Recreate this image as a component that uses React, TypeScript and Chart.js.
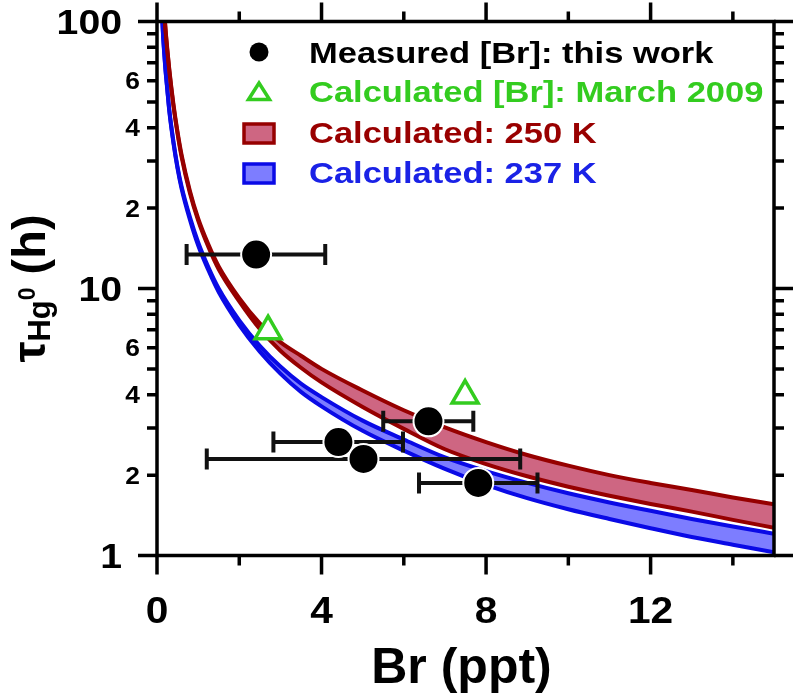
import React, { useEffect, useRef } from 'react';
import { Chart, registerables } from 'chart.js';

Chart.register(...registerables);

// ---------- data ----------
const X_BR = [0.12, 0.15, 0.17, 0.2, 0.25, 0.3, 0.4, 0.5, 0.6, 0.8, 1, 1.25, 1.5, 2, 2.5, 3, 3.5, 4, 5, 6, 7, 8, 9, 10, 11, 12, 13, 14, 15];
const RED_UPPER = [162, 130, 115, 97, 79, 66, 49, 38.5, 31.5, 23.2, 18.3, 14.6, 12.1, 9.2, 7.4, 6.3, 5.6, 5.0, 4.15, 3.5, 3.02, 2.66, 2.38, 2.17, 2.0, 1.87, 1.76, 1.65, 1.555];
const RED_LOWER = [160, 128, 114, 96, 78, 65.2, 48.3, 38, 31, 22.8, 18.0, 14.3, 11.8, 8.95, 7.05, 5.85, 5.05, 4.45, 3.6, 2.98, 2.5, 2.2, 1.98, 1.81, 1.675, 1.56, 1.46, 1.36, 1.27];
const BLUE_UPPER = [108, 88, 79, 68, 56, 46.5, 35.5, 28.5, 24, 18.5, 14.9, 12.0, 10.0, 7.6, 6.1, 5.1, 4.4, 3.92, 3.2, 2.72, 2.33, 2.07, 1.87, 1.71, 1.58, 1.47, 1.37, 1.285, 1.206];
const BLUE_LOWER = [107, 87, 78, 67.5, 55.5, 46, 35, 28.1, 23.6, 18.1, 14.5, 11.7, 9.7, 7.3, 5.8, 4.8, 4.1, 3.62, 2.93, 2.47, 2.11, 1.84, 1.64, 1.49, 1.37, 1.265, 1.173, 1.098, 1.029];

const MEAS_BR = [2.41, 4.41, 5.02, 6.6, 7.81];
const MEAS_TAU = [13.4, 2.66, 2.3, 3.18, 1.87];
const MEAS_BR_LO = [0.72, 2.83, 1.21, 5.5, 6.37];
const MEAS_BR_HI = [4.09, 5.98, 8.83, 7.69, 9.25];

const CALC_BR = [2.7, 7.49];
const CALC_TAU = [6.92, 3.97];

const X_MAJOR = [0, 4, 8, 12];
const X_MINOR = [2, 6, 10, 14];
const X_TICK_LABELS = ['0', '4', '8', '12'];
const Y_MAJOR = [1, 10, 100];
const Y_MINOR = [2, 3, 4, 5, 6, 7, 8, 9, 20, 30, 40, 50, 60, 70, 80, 90];
const Y_LABEL_VALUES = [1, 2, 4, 6, 10, 20, 40, 60, 100];
const Y_TICK_LABELS = ['1', '2', '4', '6', '10', '2', '4', '6', '100'];

const LEGEND_LABELS = ['Measured [Br]: this work', 'Calculated [Br]: March 2009', 'Calculated: 250 K', 'Calculated: 237 K'];
const X_TITLE = 'Br (ppt)';

// ---------- styles ----------
const FONT = '"Liberation Sans", Arial, Helvetica, sans-serif';
const RED = '#960000';
const RED_FILL = 'rgb(206,102,130)';
const BLUE = '#0a0ae6';
const BLUE_FILL = 'rgb(125,125,255)';
const GREEN = '#33cc1f';
const RED_TEXT = '#990000';
const BLUE_TEXT = '#1a22e6';

const MEAS_INDEX = 1;

function drawText(ctx: CanvasRenderingContext2D, text: string, x: number, y: number, size: number, color: string, align: string, sx: number) {
  ctx.save();
  ctx.font = `bold ${size}px ${FONT}`;
  ctx.fillStyle = color;
  ctx.textBaseline = 'alphabetic';
  ctx.textAlign = 'left';
  const w = ctx.measureText(text).width * sx;
  const x0 = align === 'right' ? x - w : align === 'center' ? x - w / 2 : x;
  ctx.translate(x0, y);
  ctx.scale(sx, 1);
  ctx.fillText(text, 0, 0);
  ctx.restore();
}

const decorPlugin = {
  id: 'decor',
  beforeDatasetDraw(chart: any, args: any) {
    if (args.index !== MEAS_INDEX) return;
    const ctx = chart.ctx as CanvasRenderingContext2D;
    const xs = chart.scales.x;
    const ys = chart.scales.y;
    ctx.save();
    ctx.strokeStyle = '#111';
    ctx.lineWidth = 4;
    for (let i = 0; i < MEAS_BR.length; i++) {
      const y = ys.getPixelForValue(MEAS_TAU[i]);
      const x1 = xs.getPixelForValue(MEAS_BR_LO[i]);
      const x2 = xs.getPixelForValue(MEAS_BR_HI[i]);
      ctx.beginPath();
      ctx.moveTo(x1, y);
      ctx.lineTo(x2, y);
      ctx.moveTo(x1, y - 10.5);
      ctx.lineTo(x1, y + 10.5);
      ctx.moveTo(x2, y - 10.5);
      ctx.lineTo(x2, y + 10.5);
      ctx.stroke();
    }
    ctx.restore();
  },
  afterDraw(chart: any) {
    const ctx = chart.ctx as CanvasRenderingContext2D;
    const xs = chart.scales.x;
    const ys = chart.scales.y;
    const { left, right, top, bottom } = chart.chartArea;
    ctx.save();
    ctx.strokeStyle = '#000';
    ctx.lineWidth = 3.5;
    ctx.strokeRect(left, top, right - left, bottom - top);
    ctx.beginPath();
    const MAJ = 19;
    const MIN = 10;
    X_MAJOR.forEach((v) => {
      const x = xs.getPixelForValue(v);
      ctx.moveTo(x, bottom); ctx.lineTo(x, bottom + MAJ);
      ctx.moveTo(x, top); ctx.lineTo(x, top - MAJ);
    });
    X_MINOR.forEach((v) => {
      const x = xs.getPixelForValue(v);
      ctx.moveTo(x, bottom); ctx.lineTo(x, bottom + MIN);
      ctx.moveTo(x, top); ctx.lineTo(x, top - MIN);
    });
    Y_MAJOR.forEach((v) => {
      const y = ys.getPixelForValue(v);
      ctx.moveTo(left, y); ctx.lineTo(left - MAJ, y);
      ctx.moveTo(right, y); ctx.lineTo(right + MAJ, y);
    });
    Y_MINOR.forEach((v) => {
      const y = ys.getPixelForValue(v);
      ctx.moveTo(left, y); ctx.lineTo(left - MIN, y);
      ctx.moveTo(right, y); ctx.lineTo(right + MIN, y);
    });
    ctx.stroke();
    ctx.restore();

    // x tick labels
    X_MAJOR.forEach((v, i) => {
      drawText(ctx, X_TICK_LABELS[i], xs.getPixelForValue(v), bottom + 67.5, 37, '#000', 'center', 1.1);
    });
    // y tick labels
    Y_LABEL_VALUES.forEach((v, i) => {
      const y = ys.getPixelForValue(v);
      const major = Y_MAJOR.includes(v);
      const size = major ? 35 : 24;
      drawText(ctx, Y_TICK_LABELS[i], major ? left - 35 : left - 17, y + size * 0.358, size, '#000', 'right', major ? 1.12 : 1.1);
    });
    // x title
    drawText(ctx, X_TITLE, (left + right) / 2 - 4, 683, 50, '#000', 'center', 1);

    // y title: tau_{Hg^0} (h)
    ctx.save();
    ctx.translate(45, (top + bottom) / 2);
    ctx.rotate(-Math.PI / 2);
    const parts = [
      { t: '\u03c4', size: 47, dy: 0 },
      { t: 'Hg', size: 31, dy: 5 },
      { t: '0', size: 23, dy: -10 },
      { t: ' (h)', size: 47, dy: 0 },
    ];
    let total = 0;
    const widths = parts.map((p) => {
      ctx.font = `bold ${p.size}px ${FONT}`;
      const w = ctx.measureText(p.t).width;
      total += w;
      return w;
    });
    let cx = -total / 2;
    ctx.fillStyle = '#000';
    ctx.textBaseline = 'alphabetic';
    parts.forEach((p, i) => {
      ctx.font = `bold ${p.size}px ${FONT}`;
      ctx.fillText(p.t, cx, p.dy);
      cx += widths[i];
    });
    ctx.restore();

    // legend
    const mx = 259;
    const tx = 309;
    const baselines = [63, 102, 143, 183];
    ctx.save();
    ctx.fillStyle = '#000';
    ctx.beginPath();
    ctx.arc(mx, 52, 9.5, 0, Math.PI * 2);
    ctx.fill();
    ctx.strokeStyle = GREEN;
    ctx.lineWidth = 3.5;
    ctx.lineJoin = 'miter';
    ctx.beginPath();
    ctx.moveTo(mx, 83);
    ctx.lineTo(mx + 10.5, 99.5);
    ctx.lineTo(mx - 10.5, 99.5);
    ctx.closePath();
    ctx.stroke();
    ctx.lineWidth = 3.5;
    ctx.fillStyle = RED_FILL;
    ctx.strokeStyle = RED;
    ctx.beginPath();
    ctx.rect(mx - 15, 124, 30, 19);
    ctx.fill();
    ctx.stroke();
    ctx.fillStyle = BLUE_FILL;
    ctx.strokeStyle = BLUE;
    ctx.beginPath();
    ctx.rect(mx - 15, 164, 30, 19);
    ctx.fill();
    ctx.stroke();
    ctx.restore();
    const colors = ['#000', GREEN, RED_TEXT, BLUE_TEXT];
    LEGEND_LABELS.forEach((t, i) => {
      drawText(ctx, t, tx, baselines[i], 30, colors[i], 'left', 1.15);
    });
  },
};

export default function App() {
  const ref = useRef<HTMLCanvasElement>(null);
  useEffect(() => {
    if (!ref.current) return;
    const line = (vals: number[], color: string, fill: any, bg: string, order: number) => ({
      type: 'line' as const,
      data: X_BR.map((x, i) => ({ x, y: vals[i] })),
      borderColor: color,
      borderWidth: 4,
      backgroundColor: bg,
      fill,
      pointRadius: 0,
      cubicInterpolationMode: 'monotone' as const,
      order,
    });
    const chart = new Chart(ref.current, {
      type: 'scatter',
      data: {
        datasets: [
          {
            label: LEGEND_LABELS[1],
            data: CALC_BR.map((x, i) => ({ x, y: CALC_TAU[i] })),
            pointStyle: 'triangle',
            pointRadius: 15,
            borderWidth: 3.5,
            borderColor: GREEN,
            backgroundColor: '#fff',
            order: 0,
          },
          {
            label: LEGEND_LABELS[0],
            data: MEAS_BR.map((x, i) => ({ x, y: MEAS_TAU[i] })),
            pointStyle: 'circle',
            pointRadius: 15,
            borderWidth: 2,
            borderColor: '#fff',
            backgroundColor: '#000',
            order: 1,
          },
          line(RED_UPPER, RED, '+1', RED_FILL, 2) as any,
          line(RED_LOWER, RED, false, RED_FILL, 3) as any,
          line(BLUE_UPPER, BLUE, '+1', BLUE_FILL, 4) as any,
          line(BLUE_LOWER, BLUE, false, BLUE_FILL, 5) as any,
        ],
      },
      options: {
        animation: false,
        responsive: false,
        layout: { padding: { top: 21.5, right: 19, left: 0, bottom: 0 } },
        plugins: {
          legend: { display: false },
          tooltip: { enabled: false },
          filler: { drawTime: 'beforeDatasetsDraw' },
        },
        scales: {
          x: {
            type: 'linear',
            min: 0,
            max: 15,
            ticks: { display: false },
            grid: { display: false, drawTicks: false },
            border: { display: false },
            afterFit: (s: any) => { s.height = 139.5; },
          },
          y: {
            type: 'logarithmic',
            min: 1,
            max: 100,
            ticks: { display: false },
            grid: { display: false, drawTicks: false },
            border: { display: false },
            afterFit: (s: any) => { s.width = 157; },
          },
        },
      } as any,
      plugins: [decorPlugin],
    });
    return () => chart.destroy();
  }, []);
  return (
    <div style={{ position: 'absolute', left: 0, top: 0, width: 793, height: 695, background: '#fff' }}>
      <canvas ref={ref} width={793} height={695} style={{ display: 'block' }} />
    </div>
  );
}
